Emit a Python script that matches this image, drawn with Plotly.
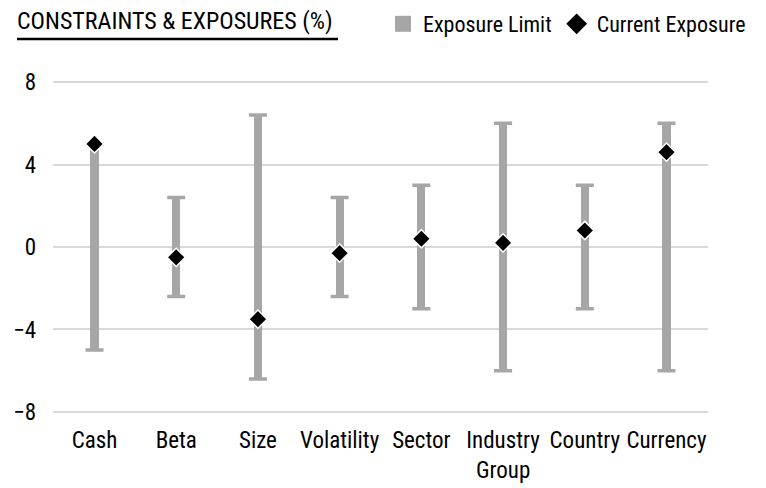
import plotly.graph_objects as go

categories = ["Cash", "Beta", "Size", "Volatility", "Sector", "Industry<br>Group", "Country", "Currency"]
limit_low = [-5.0, -2.4, -6.4, -2.4, -3.0, -6.0, -3.0, -6.0]
limit_high = [5.0, 2.4, 6.4, 2.4, 3.0, 6.0, 3.0, 6.0]
current = [5.0, -0.5, -3.5, -0.3, 0.4, 0.2, 0.8, 4.6]
y_ticks = [-8, -4, 0, 4, 8]

FONT = "Liberation Sans Narrow, Arial Narrow, Roboto Condensed, Liberation Sans, sans-serif"
GRAY = "#A6A6A6"

span = [h - l for h, l in zip(limit_high, limit_low)]
mid = [(h + l) / 2 for h, l in zip(limit_high, limit_low)]
half = [s / 2 for s in span]

# plot area: y from 80 to 414 px, x from 53 to 708 px
T, B, L, R = 80, 74, 53, 58
PW, PH = 766 - L - R, 488 - T - B


def px_x(px):
    return (px - L) / PW


def px_y(py):
    return (488 - B - py) / PH


fig = go.Figure()

fig.add_trace(go.Bar(
    x=categories, y=span, base=limit_low, width=0.1,
    marker=dict(color=GRAY, line=dict(width=0)),
    showlegend=False, hoverinfo="skip",
))
fig.add_trace(go.Scatter(
    x=categories, y=mid, mode="markers",
    marker=dict(size=1, color="rgba(0,0,0,0)"),
    error_y=dict(type="data", array=half, symmetric=True, color=GRAY, thickness=3.5, width=9),
    showlegend=False, hoverinfo="skip",
))
fig.add_trace(go.Scatter(
    x=categories, y=current, mode="markers",
    marker=dict(symbol="diamond", size=14, color="black", line=dict(color="white", width=1.5)),
    showlegend=False,
))
fig.add_trace(go.Scatter(
    x=[None], y=[None], mode="markers", name="Exposure Limit",
    marker=dict(symbol="square", size=16, color=GRAY),
))
fig.add_trace(go.Scatter(
    x=[None], y=[None], mode="markers", name="Current Exposure",
    marker=dict(symbol="diamond", size=16, color="black"),
))

fig.update_layout(
    width=766, height=488,
    margin=dict(l=L, r=R, t=T, b=B, autoexpand=False),
    paper_bgcolor="white", plot_bgcolor="white",
    font=dict(family=FONT, size=23, color="black"),
    bargap=0,
    title=dict(text="CONSTRAINTS & EXPOSURES (%)", x=17 / 766, xanchor="left",
               y=1 - 21 / 488, yanchor="middle", font=dict(family=FONT, size=24, color="black")),
    legend=dict(orientation="h", x=px_x(751), xanchor="right", y=px_y(24), yanchor="middle",
                bgcolor="rgba(0,0,0,0)", font=dict(family=FONT, size=22, color="black"),
                itemclick=False, itemdoubleclick=False),
    shapes=[dict(type="line", xref="paper", yref="paper",
                 x0=px_x(17), x1=px_x(338), y0=px_y(39), y1=px_y(39),
                 line=dict(color="black", width=2.5))],
)
fig.update_xaxes(showgrid=False, showline=False, zeroline=False, ticks="", tickangle=0,
                 automargin=False,
                 tickfont=dict(family=FONT, size=23, color="black"), ticklabelstandoff=10)
fig.update_yaxes(range=[-8.1, 8.1], tickvals=y_ticks, showgrid=True, gridcolor="#D9D9D9", gridwidth=1.5,
                 zeroline=False, showline=False, ticks="", automargin=False,
                 tickfont=dict(family=FONT, size=23, color="black"), ticklabelstandoff=16)

fig.write_html("out.html")
